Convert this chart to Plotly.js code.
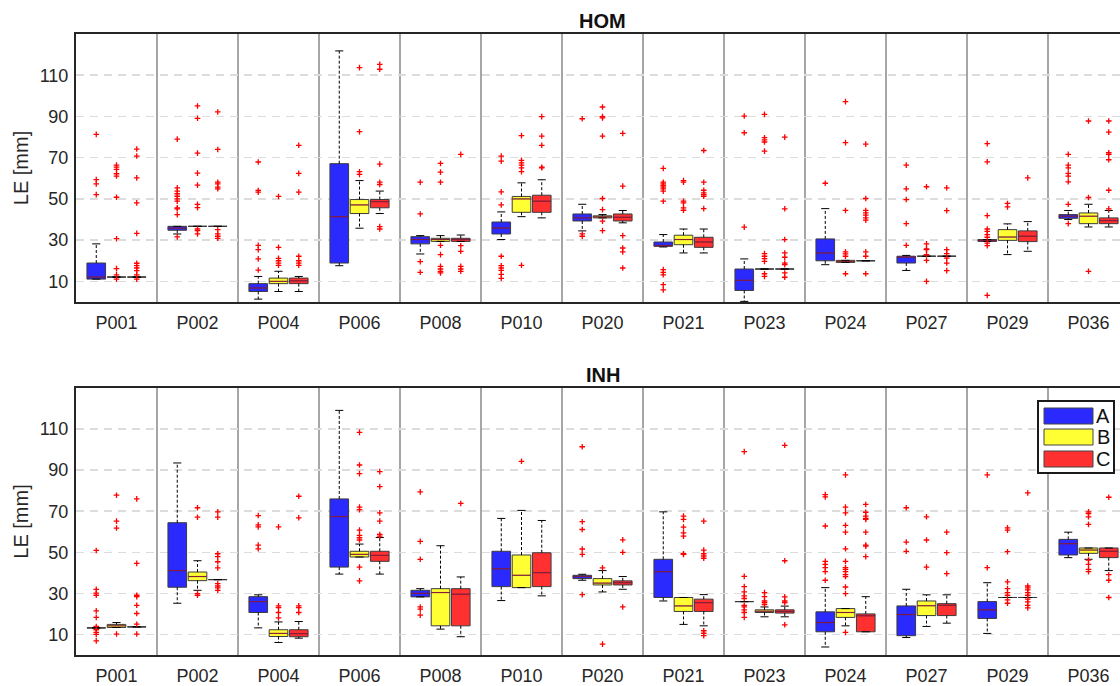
<!DOCTYPE html>
<html>
<head>
<meta charset="utf-8">
<script src="https://cdn.plot.ly/plotly-3.0.1.min.js"></script>
<style>
html,body{margin:0;padding:0;overflow:hidden;background:#fff;}
#chart{width:1132px;height:686px;}
</style>
</head>
<body>
<div id="chart"></div>
<script>
// ---------------- DATA ----------------
const CATEGORIES = ['P001','P002','P004','P006','P008','P010','P020','P021','P023','P024','P027','P029','P036'];
const SERIES = ['A','B','C'];
const PANELS = ['HOM','INH'];

// HOM panel
const HOM_A_Q1  = [11.1, 34.8, 5.1, 18.9, 28.2, 33.0, 39.3, 27.0, 5.6, 20.0, 18.9, 29.4, 40.6];
const HOM_A_MED = [12.1, 35.8, 6.8, 41.4, 30.3, 35.9, 40.8, 27.3, 10.5, 23.8, 21.8, 29.8, 41.6];
const HOM_A_Q3  = [18.9, 36.7, 8.9, 67.1, 31.7, 38.8, 42.7, 29.1, 16.0, 30.6, 22.2, 30.3, 42.4];
const HOM_A_LO  = [11.1, 33.0, 1.4, 17.6, 23.3, 30.3, 34.5, 26.7, 0.3, 18.1, 15.3, 29.4, 40.0];
const HOM_A_HI  = [28.2, 36.7, 12.4, 121.8, 32.2, 43.7, 47.4, 32.7, 20.9, 45.3, 22.6, 30.3, 44.4];
const HOM_A_OUT = [
  [81.3, 59.4, 57.3, 52.1],
  [79.0, 55.4, 53.8, 52.5, 51.3, 50.0, 48.9, 45.7, 45.2, 42.4, 31.6],
  [67.9, 54.1, 53.3, 27.5, 25.4, 20.9, 15.5],
  [],
  [58.1, 42.7, 19.6, 14.4],
  [70.8, 68.3, 53.4, 47.1, 22.2, 17.6, 16.5, 15.3, 13.4, 11.5],
  [88.9, 33.0, 31.9],
  [64.8, 58.1, 57.3, 56.5, 55.7, 54.9, 53.8, 48.9, 15.7, 14.4, 13.2, 8.4, 5.9],
  [90.2, 82.1, 36.3],
  [57.6],
  [66.4, 54.9, 49.7, 38.0, 27.5],
  [76.8, 68.0, 41.9, 35.4, 34.3, 32.7, 31.4, 28.6, 27.3, 3.2],
  [71.6, 66.4, 65.1, 62.4, 61.1, 58.3, 47.4, 38.0]
];

const HOM_B_Q1  = [12.1, 36.7, 8.9, 42.9, 29.4, 43.5, 40.8, 27.8, 16.0, 19.2, 22.2, 29.9, 38.0];
const HOM_B_MED = [12.1, 36.7, 10.0, 47.1, 30.3, 50.0, 41.3, 30.3, 16.0, 19.7, 22.2, 31.5, 41.6];
const HOM_B_Q3  = [12.1, 36.7, 11.6, 49.7, 30.9, 51.2, 41.8, 32.4, 16.0, 20.2, 22.2, 35.1, 43.2];
const HOM_B_LO  = [12.1, 36.7, 5.1, 35.8, 29.4, 41.4, 40.8, 23.8, 16.0, 19.2, 22.2, 23.0, 36.4];
const HOM_B_HI  = [12.1, 36.7, 14.9, 58.9, 32.2, 57.8, 42.4, 35.4, 16.0, 20.2, 22.2, 37.9, 47.4];
const HOM_B_OUT = [
  [66.4, 65.4, 64.3, 62.2, 61.1, 50.8, 30.7, 16.2, 13.2, 11.1],
  [95.1, 89.1, 72.2, 62.5, 56.7, 47.4, 45.8, 35.4, 34.6, 33.0],
  [51.2, 26.5, 21.2, 20.0, 18.9, 17.8],
  [113.7, 82.6, 63.2, 61.9],
  [67.2, 63.0, 58.1, 27.5, 23.0, 17.3, 16.0, 14.9, 14.1],
  [80.7, 68.7, 67.5, 66.4, 65.1, 63.2, 17.8],
  [94.6, 89.9, 89.3, 80.5, 50.2, 44.8, 39.2, 34.6],
  [58.9, 58.1, 48.9, 48.1, 45.7, 44.5],
  [91.0, 79.7, 78.6, 77.6, 73.2, 23.5, 22.2, 21.0, 19.7, 13.7, 12.4],
  [97.2, 77.3, 44.4, 24.3, 23.3, 22.2, 13.7],
  [55.9, 28.2, 25.7, 25.4, 23.0, 20.2, 10.0],
  [47.8, 46.1],
  [87.8, 50.7, 14.9]
];

const HOM_C_Q1  = [12.1, 36.7, 8.9, 45.7, 29.4, 43.5, 39.3, 26.5, 16.0, 20.0, 22.2, 29.3, 38.0];
const HOM_C_MED = [12.1, 36.7, 10.3, 48.7, 30.3, 48.9, 41.1, 29.1, 16.0, 20.0, 22.2, 31.9, 39.5];
const HOM_C_Q3  = [12.1, 36.7, 11.6, 49.7, 30.9, 51.8, 42.7, 31.4, 16.0, 20.0, 22.2, 34.5, 40.8];
const HOM_C_LO  = [12.1, 36.7, 5.1, 42.9, 29.4, 40.8, 38.4, 23.8, 16.0, 20.0, 22.2, 24.6, 36.4];
const HOM_C_HI  = [12.1, 36.7, 12.4, 53.8, 32.5, 59.3, 44.4, 35.4, 16.0, 20.0, 22.2, 39.0, 44.4];
const HOM_C_OUT = [
  [74.2, 70.8, 60.2, 48.1, 33.3, 18.8, 17.6, 16.5, 15.2, 13.2, 11.1],
  [92.2, 74.0, 58.1, 57.3, 55.7, 54.9, 35.1, 33.0, 31.9, 30.9],
  [76.0, 62.4, 53.3, 22.2, 20.0, 18.9, 17.8],
  [115.3, 112.9, 66.9, 58.1, 57.0, 36.6, 35.4],
  [71.6, 27.3, 24.6, 17.3, 16.0, 14.9],
  [89.9, 80.5, 76.0, 65.4, 65.1],
  [81.8, 56.2, 32.2, 26.2, 24.3, 16.5],
  [73.5, 58.1, 54.2, 52.9, 52.1, 51.3, 45.3],
  [80.0, 45.2, 30.3, 23.8, 21.7, 18.9, 18.1, 14.1, 12.0],
  [76.6, 50.2, 44.4, 43.2, 42.1, 40.8, 39.7, 24.3, 22.2, 13.7],
  [55.4, 44.3, 25.4, 23.5, 21.3, 18.9, 15.2],
  [60.2],
  [87.8, 82.4, 72.4, 71.6, 69.0, 54.2, 45.2]
];

// INH panel
const INH_A_Q1  = [13.2, 33.0, 20.7, 42.8, 28.3, 33.3, 37.2, 28.0, 26.0, 11.3, 9.4, 17.8, 48.7];
const INH_A_MED = [13.2, 41.1, 26.0, 67.4, 30.0, 42.0, 38.2, 40.6, 26.0, 15.8, 19.7, 22.0, 54.2];
const INH_A_Q3  = [13.2, 64.4, 28.4, 76.0, 31.5, 50.5, 38.8, 46.6, 26.0, 21.0, 23.9, 26.0, 56.3];
const INH_A_LO  = [13.2, 25.2, 13.2, 39.4, 28.3, 26.5, 36.4, 26.3, 26.0, 3.9, 8.5, 10.5, 47.4];
const INH_A_HI  = [13.2, 93.5, 29.3, 119.1, 32.3, 66.5, 39.3, 69.7, 26.0, 32.8, 32.0, 35.2, 59.8];
const INH_A_OUT = [
  [50.9, 32.0, 30.1, 29.1, 21.5, 18.3, 13.9, 12.3, 11.0, 10.0, 6.9],
  [],
  [67.9, 63.4, 62.4, 53.5, 51.7],
  [],
  [79.4, 55.3, 46.6, 23.4, 22.3, 19.4],
  [],
  [101.4, 64.9, 61.1, 51.6, 49.0, 29.4],
  [],
  [99.0, 38.3, 33.3, 30.7, 28.8, 27.5, 24.2, 23.4, 22.0, 20.7, 18.3],
  [78.1, 77.0, 62.8, 45.6, 44.1, 42.5, 40.6, 36.4],
  [71.7, 55.0, 50.5],
  [87.7, 42.5],
  []
];

const INH_B_Q1  = [13.4, 36.2, 9.0, 47.7, 14.2, 32.8, 34.1, 21.2, 20.7, 18.3, 19.2, 28.0, 49.5];
const INH_B_MED = [14.2, 38.2, 10.5, 49.0, 30.4, 38.8, 35.0, 23.9, 21.3, 20.7, 24.0, 28.0, 51.1];
const INH_B_Q3  = [14.9, 40.4, 12.3, 50.5, 32.3, 48.7, 37.2, 28.0, 22.0, 22.6, 26.3, 28.0, 52.1];
const INH_B_LO  = [13.4, 31.5, 6.1, 47.7, 12.6, 32.8, 30.7, 14.9, 18.6, 14.2, 13.9, 28.0, 46.6];
const INH_B_HI  = [15.8, 45.9, 16.1, 54.0, 53.2, 70.4, 41.1, 28.0, 23.4, 22.6, 29.3, 28.0, 52.1];
const INH_B_OUT = [
  [77.8, 65.2, 61.8, 10.2],
  [71.7, 67.1, 29.9, 29.1],
  [62.4, 23.9, 23.1, 20.7, 18.1],
  [108.4, 92.5, 88.3, 72.0, 70.8, 60.8, 58.2, 57.1, 56.0, 42.8, 36.1],
  [],
  [94.3],
  [42.4, 5.3],
  [67.6, 66.0, 62.3, 59.5, 57.9, 49.3, 49.0],
  [30.4, 28.4, 26.3, 25.5, 24.6],
  [87.7, 72.0, 69.2, 63.1, 59.8, 51.7, 45.6, 42.5, 41.7, 40.6, 39.1, 38.2, 33.1, 29.9, 11.0],
  [67.3, 56.0, 42.8],
  [61.9, 60.8, 50.3, 35.6, 32.3, 30.4, 29.1, 26.8, 25.2],
  [69.7, 68.9, 67.3, 63.6, 46.2, 44.1, 41.7, 40.6]
];

const INH_C_Q1  = [13.7, 36.7, 8.9, 45.6, 14.2, 33.3, 34.1, 21.2, 20.4, 11.3, 19.2, 28.0, 47.4];
const INH_C_MED = [13.7, 36.7, 10.4, 48.5, 29.6, 40.1, 35.2, 25.5, 21.2, 19.1, 24.2, 28.0, 50.5];
const INH_C_Q3  = [13.7, 36.7, 12.3, 50.5, 32.3, 49.8, 36.1, 27.2, 22.0, 20.0, 25.0, 28.0, 52.1];
const INH_C_LO  = [13.7, 36.7, 8.2, 39.4, 8.9, 28.8, 32.0, 14.2, 18.6, 11.3, 15.5, 28.0, 41.1];
const INH_C_HI  = [13.7, 36.7, 16.3, 57.2, 38.0, 65.5, 38.2, 29.4, 23.8, 28.4, 29.3, 28.0, 52.1];
const INH_C_OUT = [
  [76.0, 44.6, 29.1, 28.4, 24.2, 20.2, 15.0, 10.2],
  [69.7, 67.1, 49.3, 47.9, 45.4, 42.4, 34.8, 33.6, 32.7, 31.5],
  [77.3, 66.8, 23.9, 23.1, 20.7],
  [89.3, 82.0, 69.2, 65.2, 58.7, 57.9],
  [73.8],
  [],
  [56.1, 50.0, 23.4],
  [65.2, 51.1, 49.3, 48.2, 47.1, 11.8, 10.6, 9.4],
  [102.1, 45.9, 28.3, 26.3, 25.5, 14.7],
  [73.3, 69.5, 67.6, 66.5, 66.0, 59.8, 53.5, 53.0, 47.9],
  [59.8, 49.8, 39.6],
  [78.9, 33.6, 32.7, 31.7, 30.4, 29.1, 27.2, 25.9, 24.2, 22.9],
  [76.8, 39.1, 36.4, 28.0]
];

const Y_TICKS = [10, 30, 50, 70, 90, 110];

// ---------------- STYLE ----------------
const FILL = {A: '#2a2aff', B: '#ffff33', C: '#ff3030'};
const OFFSET = {A: -0.25, B: 0, C: 0.25};
const BOX_W = 0.23;
const CAP_HALF = 0.05;
const FONT = '"Liberation Sans", Arial, Helvetica, sans-serif';
const TXT = '#262626';

const STATS = {
  HOM: {
    A: {q1: HOM_A_Q1, med: HOM_A_MED, q3: HOM_A_Q3, lo: HOM_A_LO, hi: HOM_A_HI, out: HOM_A_OUT},
    B: {q1: HOM_B_Q1, med: HOM_B_MED, q3: HOM_B_Q3, lo: HOM_B_LO, hi: HOM_B_HI, out: HOM_B_OUT},
    C: {q1: HOM_C_Q1, med: HOM_C_MED, q3: HOM_C_Q3, lo: HOM_C_LO, hi: HOM_C_HI, out: HOM_C_OUT}
  },
  INH: {
    A: {q1: INH_A_Q1, med: INH_A_MED, q3: INH_A_Q3, lo: INH_A_LO, hi: INH_A_HI, out: INH_A_OUT},
    B: {q1: INH_B_Q1, med: INH_B_MED, q3: INH_B_Q3, lo: INH_B_LO, hi: INH_B_HI, out: INH_B_OUT},
    C: {q1: INH_C_Q1, med: INH_C_MED, q3: INH_C_Q3, lo: INH_C_LO, hi: INH_C_HI, out: INH_C_OUT}
  }
};

const traces = [];
PANELS.forEach((panel, pi) => {
  const xa = pi === 0 ? 'x' : 'x2';
  const ya = pi === 0 ? 'y' : 'y2';
  const wx = [], wy = [], cx = [], cy = [], mx = [], my = [], ox = [], oy = [];
  SERIES.forEach(s => {
    const d = STATS[panel][s];
    const pos = CATEGORIES.map((c, i) => i + 1 + OFFSET[s]);
    traces.push({
      type: 'box', name: s, legendgroup: s, showlegend: false,
      xaxis: xa, yaxis: ya, orientation: 'v',
      x: pos, q1: d.q1, median: d.med, q3: d.q3,
      lowerfence: d.q1, upperfence: d.q3,
      width: BOX_W, whiskerwidth: 0, boxpoints: false,
      fillcolor: FILL[s], line: {color: '#3c3c3c', width: 1},
      hoverinfo: 'skip'
    });
    pos.forEach((xc, i) => {
      if (d.hi[i] > d.q3[i]) { wx.push(xc, xc, null); wy.push(d.q3[i], d.hi[i], null); }
      if (d.lo[i] < d.q1[i]) { wx.push(xc, xc, null); wy.push(d.q1[i], d.lo[i], null); }
      cx.push(xc - CAP_HALF, xc + CAP_HALF, null); cy.push(d.hi[i], d.hi[i], null);
      cx.push(xc - CAP_HALF, xc + CAP_HALF, null); cy.push(d.lo[i], d.lo[i], null);
      if (d.q3[i] > d.q1[i]) {
        mx.push(xc - BOX_W / 2 + 0.005, xc + BOX_W / 2 - 0.005, null);
        my.push(d.med[i], d.med[i], null);
      }
      d.out[i].forEach(v => { ox.push(xc); oy.push(v); });
    });
  });
  traces.push({type: 'scatter', mode: 'lines', xaxis: xa, yaxis: ya, x: wx, y: wy,
    line: {color: '#000', width: 1, dash: '3px,2px'}, showlegend: false, hoverinfo: 'skip'});
  traces.push({type: 'scatter', mode: 'lines', xaxis: xa, yaxis: ya, x: cx, y: cy,
    line: {color: '#000', width: 1}, showlegend: false, hoverinfo: 'skip'});
  traces.push({type: 'scatter', mode: 'lines', xaxis: xa, yaxis: ya, x: mx, y: my,
    line: {color: 'rgba(190,0,60,0.5)', width: 1.3}, showlegend: false, hoverinfo: 'skip'});
  traces.push({type: 'scatter', mode: 'markers', xaxis: xa, yaxis: ya, x: ox, y: oy,
    marker: {symbol: 'cross-thin', size: 4, color: '#ff0000', line: {color: '#ff0000', width: 1.3}},
    showlegend: false, hoverinfo: 'skip'});
});

const sepVals = CATEGORIES.slice(1).map((c, i) => i + 1.5);
function xAxis(anchor) {
  return {
    anchor: anchor, domain: [0, 1], range: [0.5, CATEGORIES.length + 0.5],
    tickmode: 'array', tickvals: CATEGORIES.map((c, i) => i + 1), ticktext: CATEGORIES,
    showgrid: false, zeroline: false,
    showline: true, mirror: true, linecolor: '#262626', linewidth: 2,
    ticks: 'outside', ticklen: 3, tickcolor: 'rgba(0,0,0,0)',
    tickfont: {family: FONT, size: 18, color: TXT},
    minor: {tickmode: 'array', tickvals: sepVals, showgrid: true, gridcolor: '#a6a6a6', gridwidth: 1.5, ticks: ''}
  };
}
function yAxis(anchor, dom) {
  return {
    anchor: anchor, domain: dom, range: [0, 130],
    tickmode: 'array', tickvals: Y_TICKS,
    showgrid: true, gridcolor: '#dcdcdc', gridwidth: 1.5, griddash: '8px,6px',
    zeroline: false, showline: true, mirror: true, linecolor: '#262626', linewidth: 2,
    ticks: 'outside', ticklen: 2, tickcolor: 'rgba(0,0,0,0)',
    tickfont: {family: FONT, size: 18, color: TXT},
    title: {text: 'LE [mm]', font: {family: FONT, size: 20, color: TXT}, standoff: 6}
  };
}

// legend (drawn as shapes + text in paper space)
const W = 1132, H = 686, ML = 76, MR = 3;
const px = v => (v - ML) / (W - ML - MR);
const py = v => (H - v) / H;
const shapes = [{type: 'rect', xref: 'paper', yref: 'paper', x0: px(1038), x1: px(1114), y0: py(473), y1: py(401),
  line: {color: '#1a1a1a', width: 2}, fillcolor: '#ffffff', layer: 'above'}];
const annotations = [];
const legTop = [408, 429, 451];
SERIES.forEach((s, k) => {
  shapes.push({type: 'rect', xref: 'paper', yref: 'paper', x0: px(1044), x1: px(1093),
    y0: py(legTop[k] + 16), y1: py(legTop[k]), line: {color: '#444', width: 1}, fillcolor: FILL[s], layer: 'above'});
  annotations.push({text: s, xref: 'paper', yref: 'paper', x: px(1103), y: py(legTop[k] + 8),
    xanchor: 'center', yanchor: 'middle', showarrow: false, font: {family: FONT, size: 20, color: '#111'}});
});
annotations.push({text: '<b>HOM</b>', xref: 'paper', yref: 'paper', x: 0.5, y: py(21), xanchor: 'center', yanchor: 'middle',
  showarrow: false, font: {family: FONT, size: 20, color: '#111'}});
annotations.push({text: '<b>INH</b>', xref: 'paper', yref: 'paper', x: 0.5, y: py(375), xanchor: 'center', yanchor: 'middle',
  showarrow: false, font: {family: FONT, size: 20, color: '#111'}});

const layout = {
  width: W, height: H,
  margin: {l: ML, r: MR, t: 0, b: 0},
  paper_bgcolor: '#ffffff', plot_bgcolor: '#ffffff',
  showlegend: false,
  font: {family: FONT, color: TXT},
  xaxis: xAxis('y'), yaxis: yAxis('x', [py(302), py(34)]),
  xaxis2: xAxis('y2'), yaxis2: yAxis('x2', [py(655), py(388)]),
  shapes: shapes, annotations: annotations
};

Plotly.newPlot('chart', traces, layout, {displayModeBar: false, staticPlot: true});
</script>
</body>
</html>
